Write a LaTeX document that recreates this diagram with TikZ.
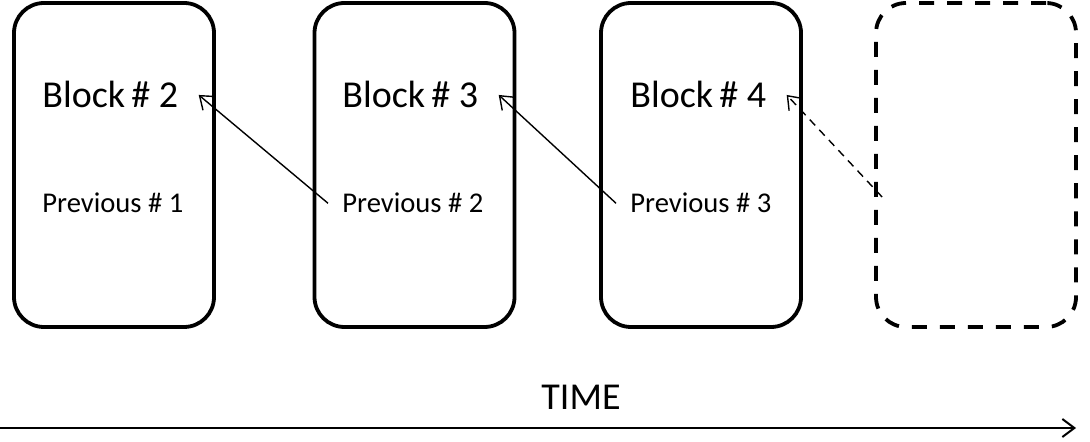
\documentclass[tikz,border=0pt]{standalone}
\usepackage{fontspec}
\setmainfont{Carlito}
\usetikzlibrary{arrows.meta}

\begin{document}
\begin{tikzpicture}[x=0.5pt,y=-0.5pt,
    >={Straight Barb[length=6pt,width=9pt]},
    blockbox/.style={draw,line width=1.9pt,rounded corners=15pt,
      minimum width=100pt,minimum height=162pt},
    nextbox/.style={blockbox,dash pattern=on 7.5pt off 6.5pt},
    title/.style={anchor=base west,inner sep=0pt,font=\fontsize{19}{22}\selectfont},
    prev/.style={anchor=base west,inner sep=0pt,font=\fontsize{14.3}{17}\selectfont},
    link/.style={->,line width=0.7pt}]
  \useasboundingbox (0,0) rectangle (1090,442);
  % blocks
  \node[blockbox] (box2) at (114,165) {};
  \node[blockbox] (box3) at (414.5,165) {};
  \node[blockbox] (box4) at (701,165) {};
  \node[nextbox] (box5) at (976,165) {};
  \node[title] (b2) at (42,108) {Block\,\# 2};
  \node[title] (b3) at (342,108) {Block\,\# 3};
  \node[title] (b4) at (630,108) {Block\,\# 4};
  \node[prev] (p1) at (42,213) {Previous \# 1};
  \node[prev] (p2) at (342,213) {Previous \# 2};
  \node[prev] (p3) at (630,213) {Previous \# 3};
  % back links
  \draw[link] ([xshift=-7pt]p2.west) -- ([xshift=10pt]b2.east);
  \draw[link] ([xshift=-7pt]p3.west) -- ([xshift=10pt]b3.east);
  \draw[link,dash pattern=on 4pt off 3pt] ([shift={(4pt,-16pt)}]box5.west) -- ([xshift=10pt]b4.east);
  % time axis
  \coordinate (t0) at (0,428);
  \coordinate (t1) at (1076,428);
  \draw[->,line width=1pt] (t0) -- (t1);
  \node[title,anchor=base] (time) at (581,409) {TIME};
\end{tikzpicture}
\end{document}
